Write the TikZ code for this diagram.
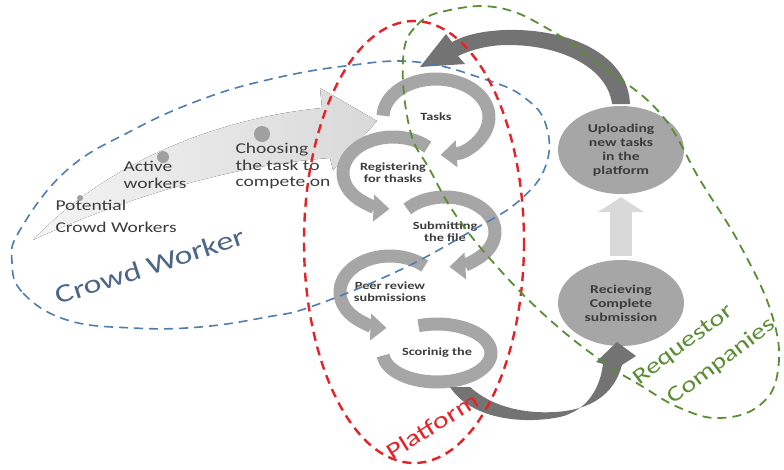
\documentclass[tikz,border=0pt]{standalone}
\usepackage{fontspec}
\setmainfont{Carlito}[FakeStretch=1.3]
\usepackage{xcolor}
\usetikzlibrary{arrows.meta, positioning, shapes.geometric}

\definecolor{ringgray}{HTML}{A6A6A6}
\definecolor{darkflow}{HTML}{737373}
\definecolor{lightA}{HTML}{F4F4F4}
\definecolor{lightB}{HTML}{D9D9D9}
\definecolor{dotgray}{HTML}{A0A0A0}
\definecolor{txtgray}{HTML}{3C3C3C}
\definecolor{crowdblue}{HTML}{4F7DAE}
\definecolor{crowdtxt}{HTML}{4C6688}
\definecolor{platred}{HTML}{E52228}
\definecolor{reqgreen}{HTML}{5B8E34}

\begin{document}
\begin{tikzpicture}[x=1pt, y=-1pt,
  ring/.style={line width=13pt, draw=ringgray, -{Triangle[width=26pt,length=16pt]}},
  ringtxt/.style={font=\fontsize{11}{12}\selectfont\bfseries, text=txtgray, align=center},
  stagetxt/.style={font=\fontsize{15}{16.5}\selectfont, text=txtgray, align=left, anchor=west},
  reqbox/.style={ellipse, fill=ringgray, inner sep=0pt, minimum width=126pt, minimum height=88pt,
    font=\fontsize{12}{14}\selectfont\bfseries, text=txtgray, align=center},
  grouptxt/.style={font=\fontsize{24}{26}\selectfont},
  zone/.style={dash pattern=on 9pt off 6pt},
]
\useasboundingbox (0,0) rectangle (784,469);

% Sageata crowd worker
\fill[left color=lightA, right color=lightB] (33,240) .. controls (110,160) and (220,118) .. (322,108)
  -- (320,88) -- (377,121) -- (333,170) -- (330,158) .. controls (230,165) and (120,200) .. (33,240) -- cycle;
\node[circle, fill=dotgray, minimum size=6pt, inner sep=0pt] (dot1) at (80,198) {};
\node[circle, fill=dotgray, minimum size=12pt, inner sep=0pt] (dot2) at (163,157) {};
\node[circle, fill=dotgray, minimum size=16pt, inner sep=0pt] (dot3) at (262,134) {};

\node[stagetxt, font=\fontsize{15}{22}\selectfont] (potential) at (52,216) {Potential\\Crowd Workers};
\node[stagetxt] (active) at (120,175) {Active\\workers};
\node[stagetxt] (choose) at (232,166) {Choosing\\the task to\\compete on};

% Cercuri platforma
\coordinate (c1) at (436,117);
\coordinate (c2) at (393,173);
\coordinate (c3) at (445,232);
\coordinate (c4) at (390,292);
\coordinate (c5) at (437,353);
\draw[ring] (c1) ++(182:53 and 38) arc[start angle=182, end angle=445, x radius=53, y radius=38];
\draw[ring] (c2) ++(-46:50 and 36) arc[start angle=-46, end angle=-266, x radius=50, y radius=36];
\draw[ring] (c3) ++(221:50 and 35) arc[start angle=221, end angle=445, x radius=50, y radius=35];
\draw[ring] (c4) ++(-46:50 and 36) arc[start angle=-46, end angle=-266, x radius=50, y radius=36];
\draw[line width=13pt, draw=ringgray] (c5) ++(250:54 and 29) arc[start angle=250, end angle=535, x radius=54, y radius=29];

\node[ringtxt] (tasks) at (c1) {Tasks};
\node[ringtxt] (register) at (c2) {Registering\\for thasks};
\node[ringtxt] (submit) at (c3) {Submitting\\the file};
\node[ringtxt] (review) at (c4) {Peer review\\submissions};
\node[ringtxt] (score) at (c5) {Scorinig the};

% Companii
\node[reqbox] (upload) at (621,150) {Uploading\\new tasks\\in the\\platform};
\node[reqbox, minimum height=86pt] (receive) at (621,303) {Recieving\\Complete\\submission};
\draw[line width=22pt, draw=lightB, -{Triangle[width=46pt,length=15pt]}, shorten <=4pt, shorten >=3pt] (receive.north) -- (upload.south);

% Sageti inchise
\fill[darkflow] (630,104) .. controls (628,55) and (570,28) .. (505,30) .. controls (482,31) and (465,35) .. (452,42)
  -- (446,34) -- (420,67) -- (465,64) -- (458,56) .. controls (475,48) and (492,45) .. (508,45)
  .. controls (565,45) and (608,70) .. (612,104) -- cycle;
\fill[darkflow] (450,387) .. controls (470,418) and (520,425) .. (560,417) .. controls (588,410) and (600,388) .. (603,364)
  -- (596,362) -- (617,342) -- (636,356) -- (622,365) .. controls (614,395) and (590,410) .. (555,412)
  .. controls (520,414) and (490,405) .. (470,387) -- cycle;

% Zone
\draw[zone, draw=crowdblue, line width=1.6pt] plot[smooth cycle, tension=0.7] coordinates {(12,262) (23,293) (67,320) (133,328) (200,327) (267,317) (313,306) (400,270) (473,230) (520,200) (546,165) (546,125) (525,98) (487,80) (417,62) (345,66) (267,80) (200,100) (133,130) (67,170) (20,230)};
\draw[zone, draw=platred, line width=2.4pt] (414,242) ellipse[x radius=110, y radius=221];
\draw[zone, draw=reqgreen, line width=1.8pt] plot[smooth cycle, tension=0.7] coordinates {(403,60) (417,25) (450,10) (500,8) (550,30) (600,65) (660,113) (700,180) (740,245) (772,315) (778,370) (760,405) (720,418) (680,408) (640,385) (603,362) (550,320) (500,270) (457,217) (430,170) (410,130)};

\node[grouptxt, font=\fontsize{26}{28}\selectfont, text=crowdtxt, rotate=18] (crowd) at (150,266) {Crowd Worker};
\node[grouptxt, font=\fontsize{23}{25}\selectfont, text=platred, rotate=32] (platform) at (432,426) {Platform};
\node[grouptxt, font=\fontsize{22}{36}\selectfont, text=reqgreen, align=left, rotate=37] (requestor) at (705,352) {Requestor\\\hspace*{16pt}Companies};

\end{tikzpicture}
\end{document}
